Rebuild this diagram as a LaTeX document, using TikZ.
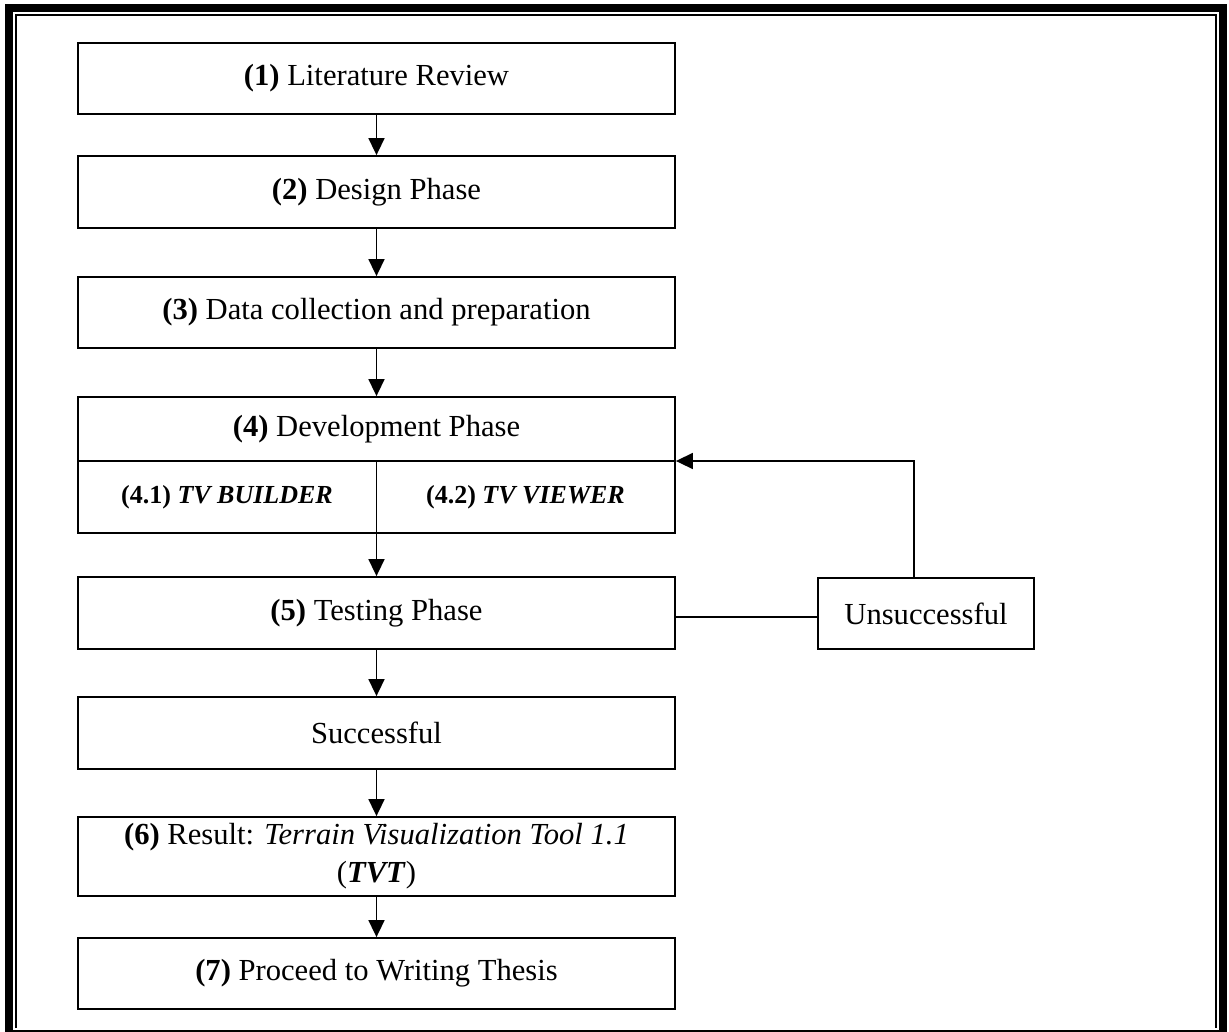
\documentclass[tikz,border=0pt]{standalone}
\usepackage{fontspec}
\setmainfont{Liberation Serif}
\usetikzlibrary{arrows.meta}
\begin{document}
\begin{tikzpicture}[x=1pt,y=-1pt,
  box/.style={draw, line width=1.8pt, minimum width=597pt, inner sep=0pt, align=center,
    font=\fontsize{30.6}{38}\selectfont},
  lbl/.style={inner sep=0pt, align=center, font=\fontsize{30.6}{38}\selectfont},
  sublbl/.style={inner sep=0pt, align=center, font=\fontsize{26}{32}\selectfont},
  arr/.style={line width=1.6pt, -{Triangle[length=17pt,width=16pt]}},
  ln/.style={line width=1.6pt}]
\useasboundingbox (0,0) rectangle (1229,1031);
\fill[white] (0,0) rectangle (1229,1031);
% frame
\draw[line width=8pt] (9,8) rectangle (1223,1034);
\draw[line width=1.5pt] (16,1028) -- (16,15) -- (1216,15) -- (1216,1028);

% boxes
\node[box, minimum height=71pt] (b1) at (376.5,78.5) {\textbf{(1)} Literature Review};
\node[box, minimum height=72pt] (b2) at (376.5,192) {\textbf{(2)} Design Phase};
\node[box, minimum height=71pt] (b3) at (376.5,312.5) {\textbf{(3)} Data collection and preparation};
\node[box, minimum height=136pt] (b4) at (376.5,465) {};
\node[lbl] (b4t) at (376.5,429) {\textbf{(4)} Development Phase};
\coordinate (d) at (376.5,461);
\draw[ln] (b4.west |- d) -- (b4.east |- d);
\node[sublbl] (b41) at (227,497) {\textbf{(4.1) \textit{TV BUILDER}}};
\node[sublbl] (b42) at (525.5,497) {\textbf{(4.2) \textit{TV VIEWER}}};
\node[box, minimum height=72pt] (b5) at (376.5,613) {\textbf{(5)} Testing Phase};
\node[box, minimum width=216pt, minimum height=71pt] (u) at (926,613.5) {Unsuccessful};
\node[box, minimum height=72pt] (s) at (376.5,733) {Successful};
\node[box, minimum height=79pt] (b6) at (376.5,856.5) {\textbf{(6)} Result: \textit{Terrain Visualization Tool 1.1}\\(\textbf{\textit{TVT}})};
\node[box, minimum height=71pt] (b7) at (376.5,973.5) {\textbf{(7)} Proceed to Writing Thesis};

% connectors
\draw[arr] (b1.south) -- (b2.north);
\draw[arr] (b2.south) -- (b3.north);
\draw[arr] (b3.south) -- (b4.north);
\draw[ln] (d) -- (b4.south);
\draw[arr] (d) -- (b5.north);
\draw[arr] (s.south) -- (b6.north);
\draw[arr] (b5.south) -- (s.north);
\draw[arr] (b6.south) -- (b7.north);
\coordinate (uc) at (914,578);
\draw[arr] (u.north -| uc) -- (uc |- d) -- (b4.east |- d);
\coordinate (lc) at (700,617);
\draw[ln] (b5.east |- lc) -- (u.west |- lc);
\end{tikzpicture}
\end{document}
